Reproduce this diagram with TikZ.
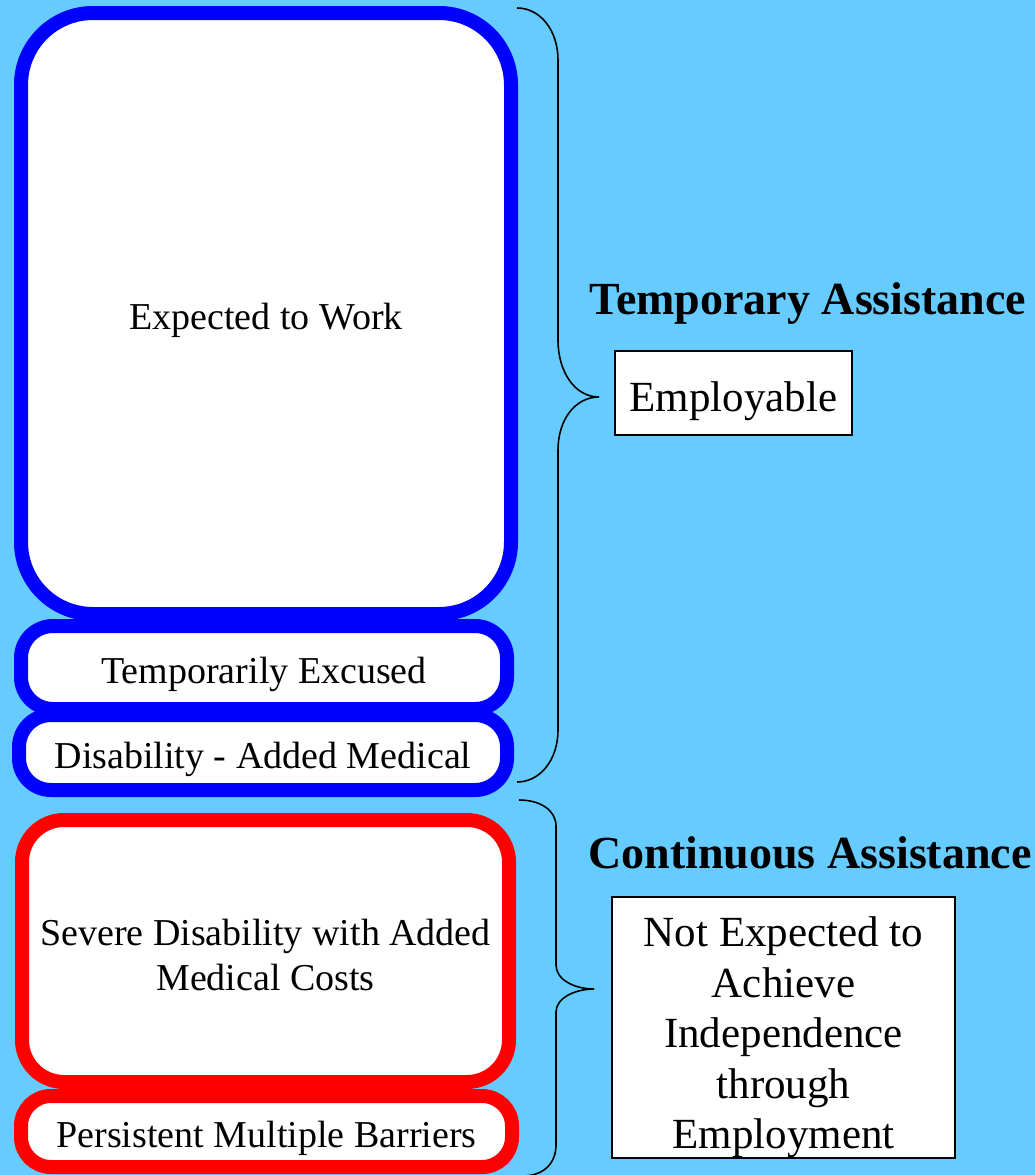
\documentclass[tikz,border=0pt]{standalone}
\usepackage{fontspec}
\setmainfont{Liberation Serif}
\definecolor{skyblue}{RGB}{102,204,255}
\begin{document}
\begin{tikzpicture}[x=1pt,y=-1pt]
	\tikzstyle{BlueBox} = [draw=blue, line width=14pt, fill=white, align=center, inner sep=0pt, font=\fontsize{38}{45}\selectfont, execute at begin node={\rule{0pt}{40pt}}]
	\tikzstyle{RedBox} = [BlueBox, draw=red]
	\tikzstyle{LabelBox} = [draw=black, line width=2pt, fill=white, align=center, inner sep=0pt, font=\fontsize{43}{50.5}\selectfont, execute at begin node={\rule{0pt}{46pt}}]
	\tikzstyle{Heading} = [font=\bfseries\fontsize{46}{54}\selectfont]
	\tikzstyle{CurlyBrace} = [draw=black, line width=1.6pt]
	\useasboundingbox (0,0) rectangle (1035,1175);
	\fill[skyblue] (0,0) rectangle (1035,1175);
	% left column
	\draw (266,313.5) node[BlueBox, minimum width=490pt, minimum height=601pt, rounded corners=72pt] (work) {Expected to Work};
	\draw (264,667.5) node[BlueBox, minimum width=486pt, minimum height=83pt, rounded corners=32pt] (excused) {Temporarily Excused};
	\draw (263,752.5) node[BlueBox, minimum width=488pt, minimum height=75pt, rounded corners=32pt] (medical) {Disability - Added Medical};
	\draw (265.5,951) node[RedBox, minimum width=487pt, minimum height=262pt, rounded corners=42pt] (severe) {\rule{0pt}{34pt}Severe Disability with Added\\Medical Costs};
	\draw (266.5,1131.5) node[RedBox, minimum width=491pt, minimum height=71pt, rounded corners=30pt] (barriers) {Persistent Multiple Barriers};
	% braces
	\draw[CurlyBrace] (517,8)..controls(540,8)and(558,30)..(558,60)--(558,340)..controls(558,372)and(575,397)..(599,397)
	..controls(575,397)and(558,420)..(558,450)--(558,730)..controls(558,760)and(540,782)..(517,782);
	\draw[CurlyBrace] (519,800)..controls(540,800)and(556,810)..(556,826)--(556,965)..controls(556,980)and(575,989)..(594,989)
	..controls(575,989)and(556,998)..(556,1012)--(556,1145)..controls(556,1162)and(545,1176)..(522,1176);
	% right column
	\draw (808,304) node[Heading] (temporary) {Temporary Assistance};
	\draw (733.5,393) node[LabelBox, minimum width=237pt, minimum height=84pt] (employable) {Employable};
	\draw (810,853) node[Heading] (continuous) {Continuous Assistance};
	\draw (783.5,1027.5) node[LabelBox, minimum width=343pt, minimum height=261pt] (notexpected) {\rule{0pt}{50pt}Not Expected to\\Achieve\\Independence\\through\\Employment};
\end{tikzpicture}
\end{document}
